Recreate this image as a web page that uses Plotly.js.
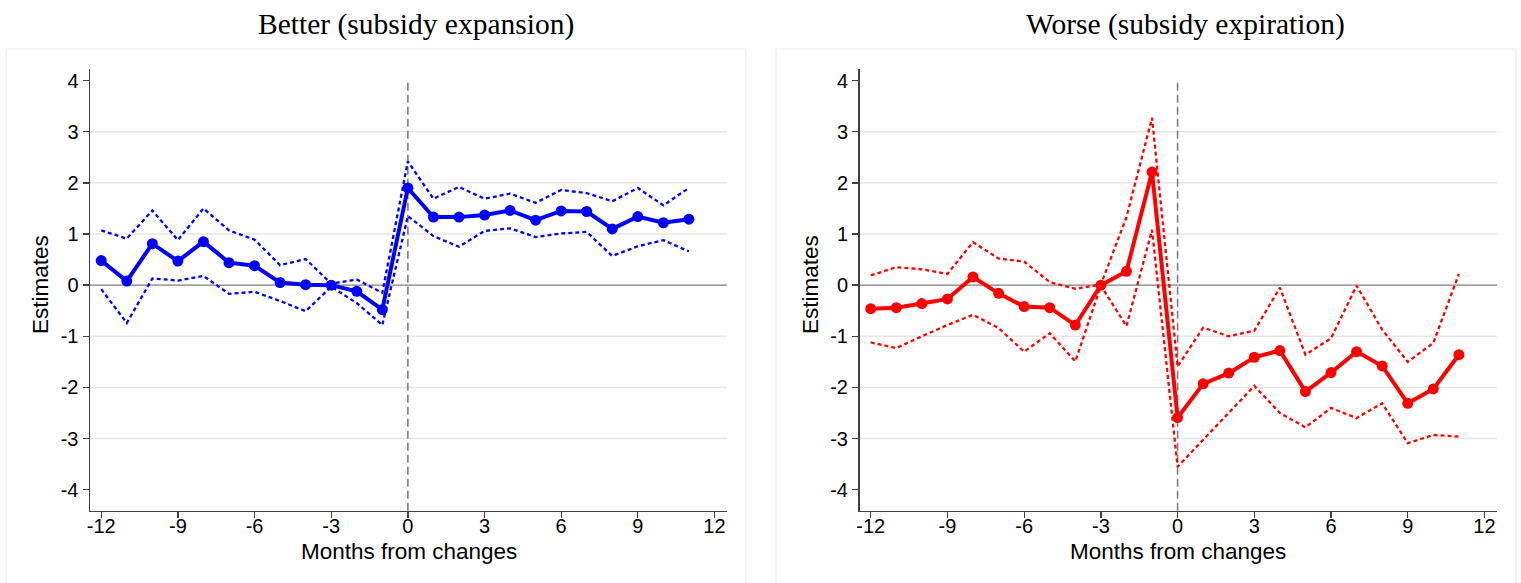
<!DOCTYPE html>
<html>
<head>
<meta charset="utf-8">
<script src="https://cdn.plot.ly/plotly-3.0.1.min.js"></script>
<style>html,body{margin:0;padding:0;background:#fff;}#chart{width:1521px;height:583px;}</style>
</head>
<body>
<div id="chart"></div>
<script>
// ---- data ----
const months = [-12,-11,-10,-9,-8,-7,-6,-5,-4,-3,-2,-1,0,1,2,3,4,5,6,7,8,9,10,11];
const xTicks = [-12,-9,-6,-3,0,3,6,9,12];
const xTickText = ["-12","-9","-6","-3","0","3","6","9","12"];
const yTicks = [-4,-3,-2,-1,0,1,2,3,4];
const yTickText = ["-4","-3","-2","-1","0","1","2","3","4"];
const gridYs = [-3,-2,-1,1,2,3];

const panelTitles = ["Better (subsidy expansion)", "Worse (subsidy expiration)"];
const xTitle = "Months from changes";
const yTitle = "Estimates";

const betterEst   = [0.48,0.08,0.81,0.47,0.85,0.44,0.38,0.05,0.01,0.00,-0.12,-0.48,1.90,1.33,1.33,1.37,1.46,1.27,1.45,1.44,1.10,1.34,1.22,1.29];
const betterUpper = [1.07,0.91,1.46,0.88,1.50,1.07,0.89,0.39,0.51,0.03,0.11,-0.15,2.42,1.69,1.92,1.69,1.79,1.61,1.86,1.80,1.64,1.90,1.56,1.90];
const betterLower = [-0.08,-0.74,0.13,0.09,0.18,-0.17,-0.13,-0.31,-0.51,-0.03,-0.35,-0.78,1.35,0.96,0.75,1.06,1.11,0.94,1.01,1.04,0.57,0.76,0.88,0.66];

const worseEst   = [-0.46,-0.44,-0.36,-0.27,0.16,-0.16,-0.42,-0.44,-0.78,0.00,0.27,2.21,-2.59,-1.93,-1.72,-1.41,-1.28,-2.08,-1.71,-1.30,-1.58,-2.31,-2.03,-1.36];
const worseUpper = [0.19,0.35,0.31,0.22,0.84,0.52,0.46,0.06,-0.07,0.01,1.33,3.27,-1.59,-0.83,-1.00,-0.89,-0.05,-1.36,-1.04,-0.01,-0.87,-1.50,-1.13,0.22];
const worseLower = [-1.12,-1.23,-1.00,-0.78,-0.58,-0.84,-1.30,-0.94,-1.49,-0.01,-0.80,1.08,-3.55,-3.02,-2.50,-1.97,-2.50,-2.78,-2.40,-2.60,-2.31,-3.09,-2.93,-2.96];

// ---- styling / geometry ----
const W = 1521, H = 583;
const BLUE = "#0000FF", RED = "#FF0000";
const SANS = "Liberation Sans, Arial, sans-serif";
const SERIF = "Liberation Serif, Times New Roman, serif";
const AX = "#404040";

function ciTrace(y, color, xa, ya) {
  return {x: months, y: y, type: "scatter", mode: "lines", xaxis: xa, yaxis: ya,
          line: {color: color, width: 2.3, dash: "4px,3px"}, hoverinfo: "skip", showlegend: false};
}
function estTrace(y, color, xa, ya) {
  return {x: months, y: y, type: "scatter", mode: "lines+markers", xaxis: xa, yaxis: ya,
          line: {color: color, width: 4}, marker: {color: color, size: 11}, showlegend: false};
}

const traces = [
  ciTrace(betterUpper, BLUE, "x", "y"),
  ciTrace(betterLower, BLUE, "x", "y"),
  estTrace(betterEst, BLUE, "x", "y"),
  ciTrace(worseUpper, RED, "x2", "y2"),
  ciTrace(worseLower, RED, "x2", "y2"),
  estTrace(worseEst, RED, "x2", "y2")
];

const yDom = [(H - 510.7) / H, (H - 69.3) / H];
function xAxis(dom, anchor) {
  return {domain: dom, anchor: anchor, range: [-12.44, 12.49], tickvals: xTicks, ticktext: xTickText,
          showline: true, linecolor: AX, linewidth: 1.5, ticks: "outside", ticklen: 6, tickwidth: 1.3,
          tickcolor: AX, showgrid: false, zeroline: false, fixedrange: true, ticklabelstandoff: -9,
          tickfont: {family: SANS, size: 20, color: "#000"}};
}
function yAxis(anchor) {
  return {domain: yDom, anchor: anchor, range: [-4.41, 4.22], tickvals: yTicks, ticktext: yTickText,
          showline: true, linecolor: AX, linewidth: 1.5, ticks: "outside", ticklen: 6, tickwidth: 1.3,
          tickcolor: AX, showgrid: false, zeroline: false, fixedrange: true,
          tickfont: {family: SANS, size: 20, color: "#000"}};
}

const panels = [
  {xa: "x", ya: "y", dom: [90 / W, 727 / W], frame: [6, 746], titleX: 415.5, xTitleX: 408.5, yTitleX: 40},
  {xa: "x2", ya: "y2", dom: [859.5 / W, 1497 / W], frame: [776, 1516], titleX: 1185.5, xTitleX: 1178, yTitleX: 810}
];

const shapes = [];
const annotations = [];
panels.forEach((p, i) => {
  shapes.push({type: "rect", xref: "paper", yref: "paper", x0: p.frame[0] / W, x1: p.frame[1] / W,
               y0: -0.02, y1: (H - 49) / H, line: {color: "#EDEDED", width: 1.2}, layer: "below"});
  gridYs.forEach(g => shapes.push({type: "line", xref: p.xa + " domain", yref: p.ya, x0: 0, x1: 1, y0: g, y1: g,
                                   line: {color: "#E6E6E6", width: 1.5}, layer: "below"}));
  shapes.push({type: "line", xref: p.xa + " domain", yref: p.ya, x0: 0, x1: 1, y0: 0, y1: 0,
               line: {color: "#7F7F7F", width: 1.3}, layer: "below"});
  shapes.push({type: "line", xref: p.xa, yref: p.ya + " domain", x0: 0, x1: 0, y0: 0, y1: 0.975,
               line: {color: "#7F7F7F", width: 1.6, dash: "8px,4px"}, layer: "below"});
  annotations.push({text: panelTitles[i], xref: "paper", yref: "paper", x: p.titleX / W,
                    y: (H - 24.5) / H, xanchor: "center", yanchor: "middle", showarrow: false,
                    font: {family: SERIF, size: 29.5, color: "#000"}});
  annotations.push({text: xTitle, xref: "paper", yref: "paper", x: p.xTitleX / W,
                    y: (H - 551) / H, xanchor: "center", yanchor: "middle", showarrow: false,
                    font: {family: SANS, size: 22.5, color: "#000"}});
  annotations.push({text: yTitle, xref: "paper", yref: "paper", x: p.yTitleX / W,
                    y: (H - 285) / H, xanchor: "center", yanchor: "middle", textangle: -90, showarrow: false,
                    font: {family: SANS, size: 22.5, color: "#000"}});
});

const layout = {
  width: W, height: H, autosize: false,
  margin: {l: 0, r: 0, t: 0, b: 0, pad: 0},
  paper_bgcolor: "#fff", plot_bgcolor: "#fff",
  showlegend: false,
  xaxis: xAxis(panels[0].dom, "y"),
  yaxis: yAxis("x"),
  xaxis2: xAxis(panels[1].dom, "y2"),
  yaxis2: yAxis("x2"),
  shapes: shapes,
  annotations: annotations
};

Plotly.newPlot("chart", traces, layout, {staticPlot: true, displayModeBar: false});
</script>
</body>
</html>
